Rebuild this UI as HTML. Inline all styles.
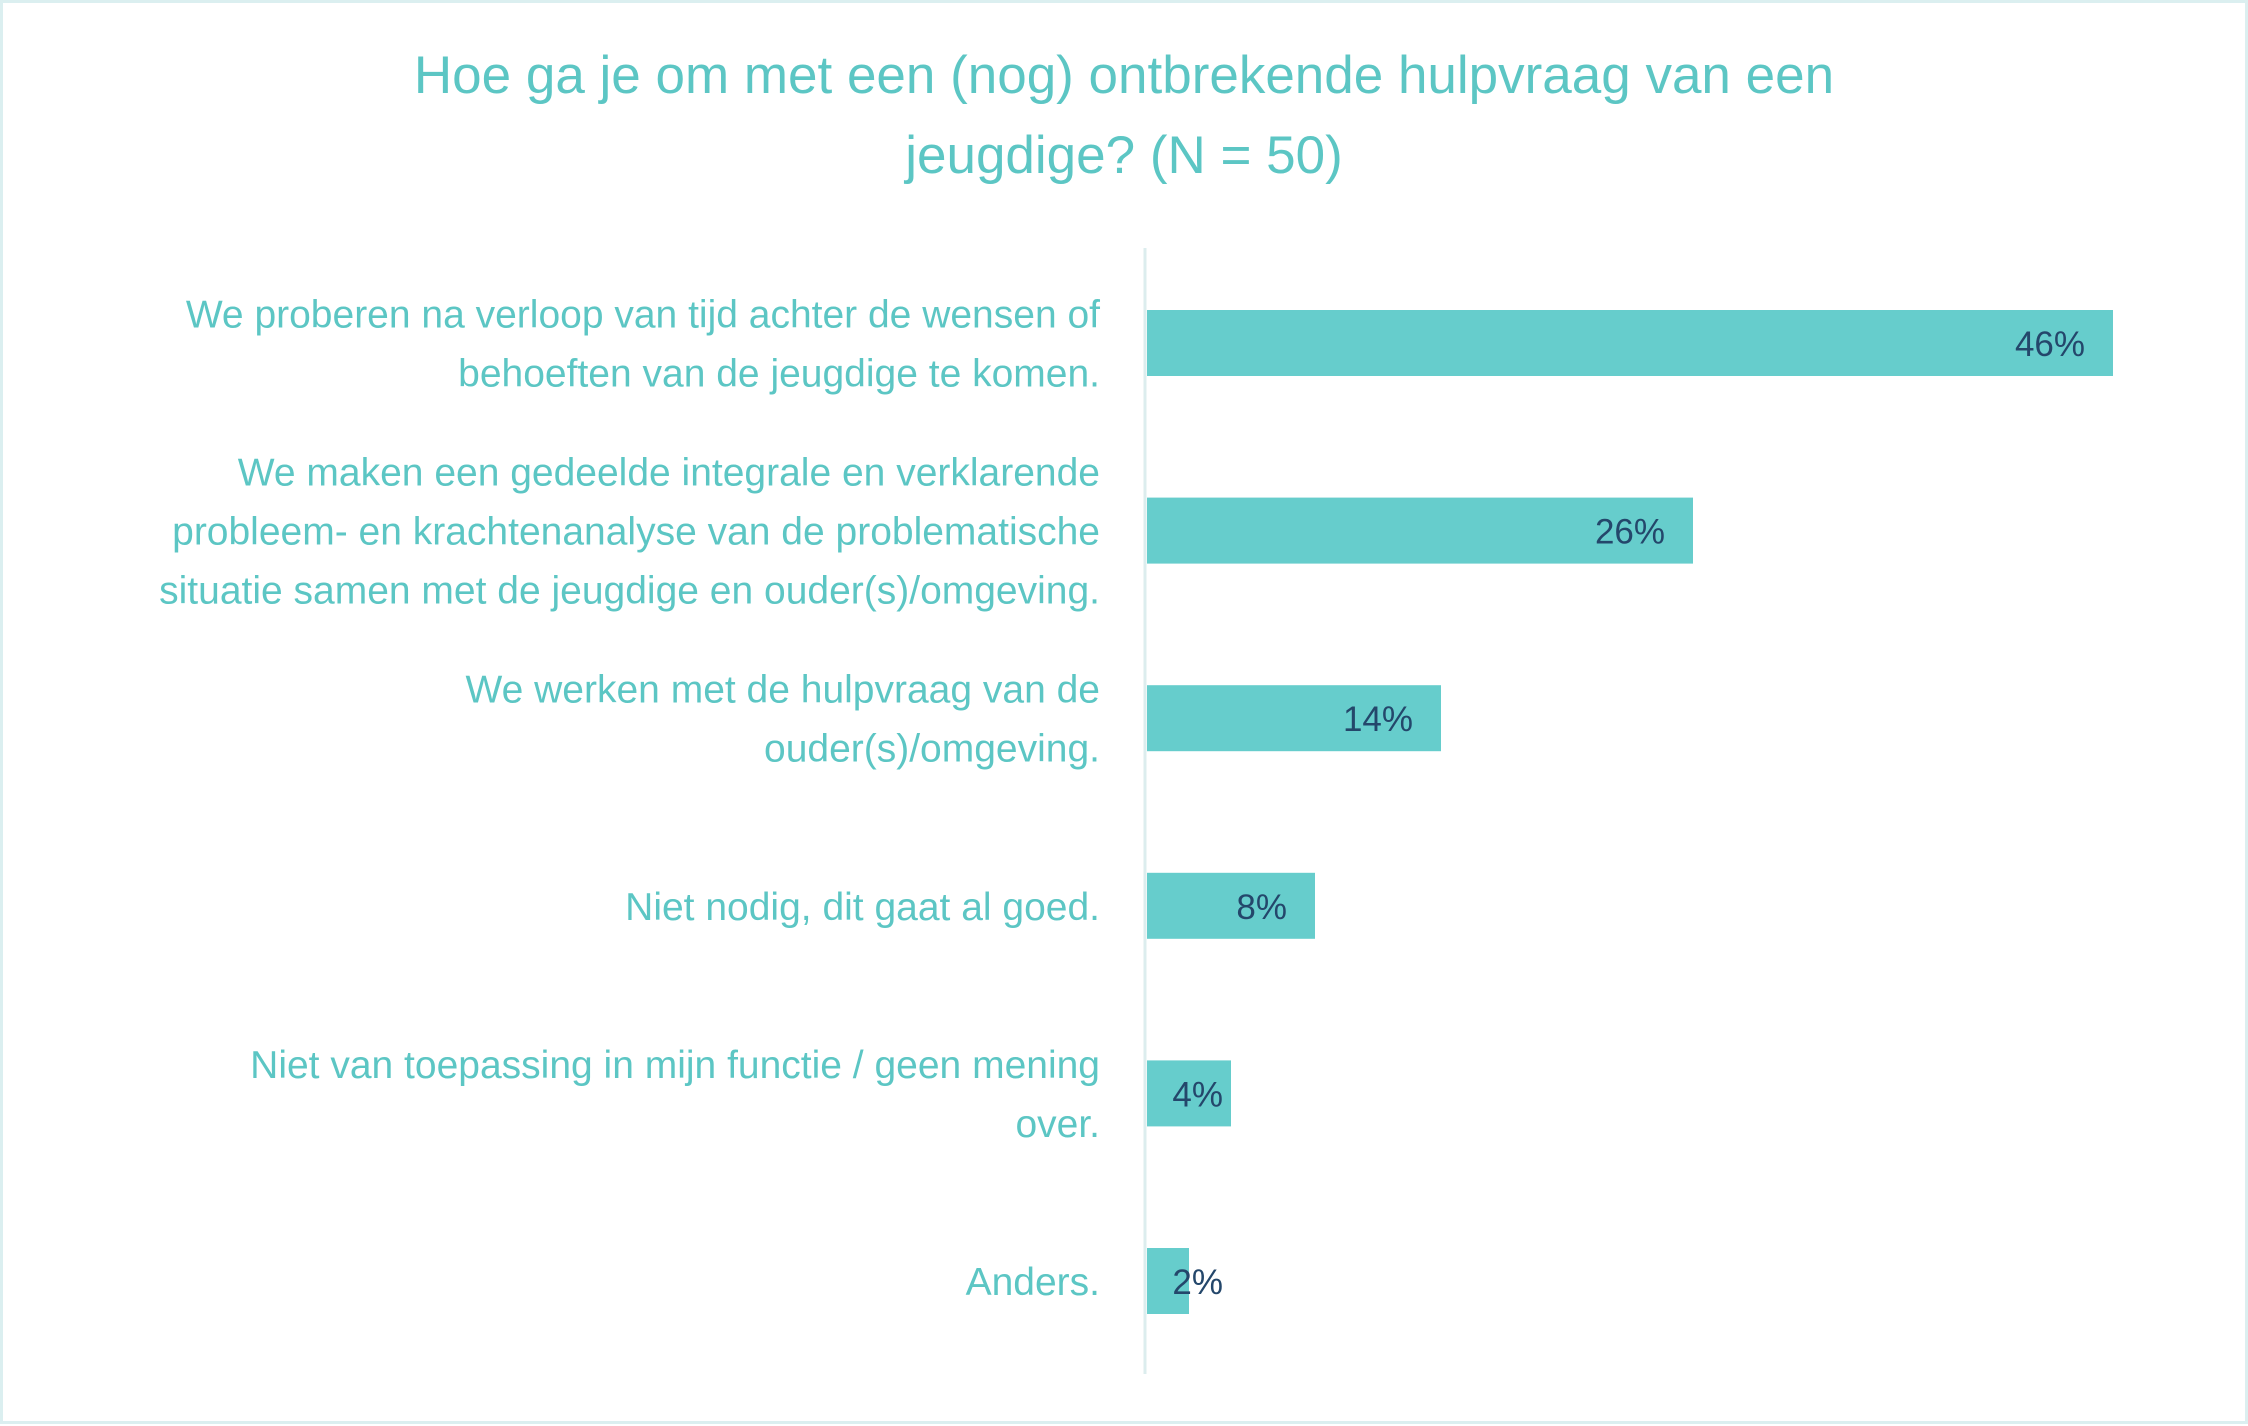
<!DOCTYPE html>
<html><head><meta charset="utf-8"><style>
html,body{margin:0;padding:0;background:#fff}
svg{display:block;font-family:"Liberation Sans",sans-serif}
</style></head><body>
<svg width="2248" height="1426" viewBox="0 0 2248 1426">
<rect x="1.5" y="1.5" width="2245" height="1421" fill="#fff" stroke="#dbeff0" stroke-width="3"/>
<g fill="#5cc6c4" font-size="53" text-anchor="middle">
<text x="1124" y="93">Hoe ga je om met een (nog) ontbrekende hulpvraag van een</text>
<text x="1124" y="173">jeugdige? (N = 50)</text>
</g>
<line x1="1145" y1="248" x2="1145" y2="1374" stroke="#dcedee" stroke-width="3"/>
<g id="bars"></g>
<script>
const categories=[
["We proberen na verloop van tijd achter de wensen of","behoeften van de jeugdige te komen."],
["We maken een gedeelde integrale en verklarende","probleem- en krachtenanalyse van de problematische","situatie samen met de jeugdige en ouder(s)/omgeving."],
["We werken met de hulpvraag van de","ouder(s)/omgeving."],
["Niet nodig, dit gaat al goed."],
["Niet van toepassing in mijn functie / geen mening","over."],
["Anders."]];
const values=[46,26,14,8,4,2];
const labels=["46%","26%","14%","8%","4%","2%"];
const NS="http://www.w3.org/2000/svg";
const g=document.getElementById('bars');
const x0=1147, pxPer=21.0;
function x(v){return x0+v*pxPer;}
function yc(i){return 343+i*187.6;}
values.forEach((v,i)=>{
  const r=document.createElementNS(NS,'rect');
  r.setAttribute('x',x0);r.setAttribute('y',yc(i)-33);
  r.setAttribute('width',x(v)-x0);r.setAttribute('height',66);
  r.setAttribute('fill','#66cdcc');
  
  
  g.appendChild(r);
  const t=document.createElementNS(NS,'text');
  t.setAttribute('x',Math.max(x(v)-28,1223));t.setAttribute('y',yc(i)+13);
  t.setAttribute('text-anchor','end');t.setAttribute('font-size','35');t.setAttribute('fill','#24476b');
  t.textContent=labels[i];
  
  
  g.appendChild(t);
  const lines=categories[i];const n=lines.length;
  lines.forEach((s,k)=>{
    const c=document.createElementNS(NS,'text');
    c.setAttribute('x',1100);c.setAttribute('y',yc(i)+14+(k-(n-1)/2)*59);
    c.setAttribute('text-anchor','end');c.setAttribute('font-size','39');c.setAttribute('fill','#5cc6c4');
    c.textContent=s;
    
    
    g.appendChild(c);
  });
});
</script>
</svg>
</body></html>
